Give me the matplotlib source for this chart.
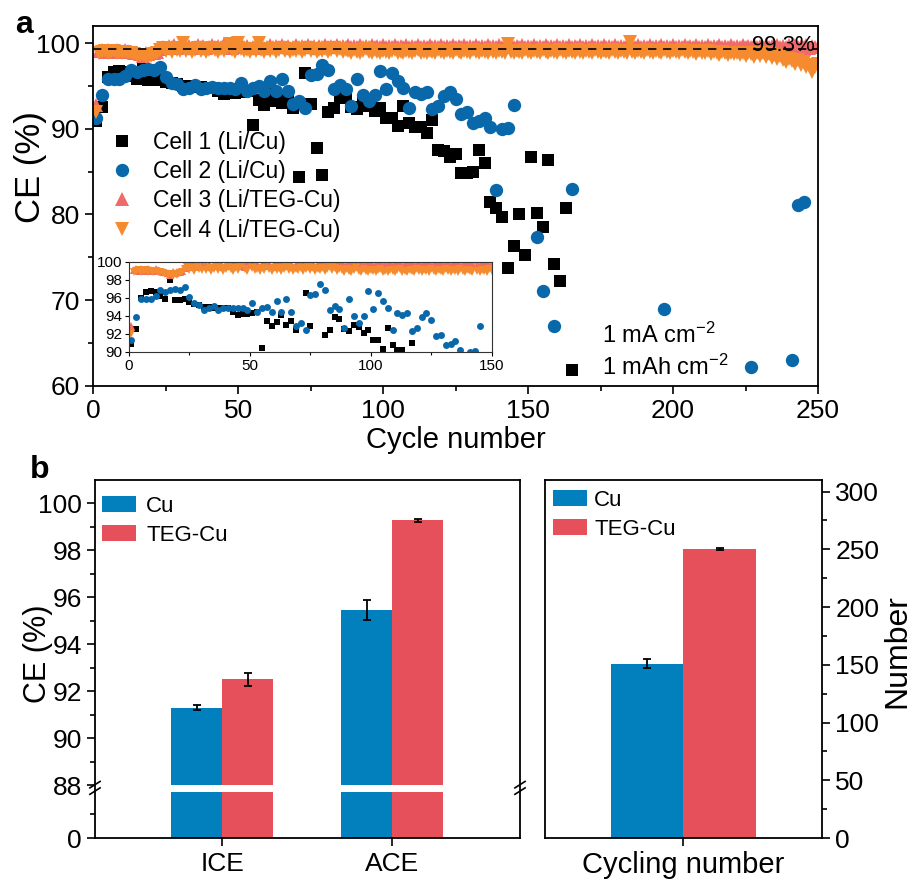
import numpy as np
import matplotlib
matplotlib.use('Agg')
import matplotlib.pyplot as plt

plt.rcParams['font.family'] = ['Liberation Sans', 'DejaVu Sans']
plt.rcParams['mathtext.fontset'] = 'custom'
plt.rcParams['mathtext.rm'] = 'Liberation Sans'
plt.rcParams['mathtext.it'] = 'Liberation Sans:italic'
plt.rcParams['axes.linewidth'] = 1.3

# ---------------- data: panel a ----------------
cell1_cycle = [1, 3, 5, 7, 9, 11, 13, 15, 17, 19, 21, 23, 25, 27, 29, 31, 33, 35, 37, 39,
               41, 43, 45, 47, 49, 51, 53, 55, 57, 59, 61, 63, 65, 67, 69, 71, 73, 75, 77, 79,
               81, 83, 85, 87, 89, 91, 93, 95, 97, 99, 101, 103, 105, 107, 109, 111, 113, 115, 117, 119,
               121, 123, 125, 127, 129, 131, 133, 135, 137, 139, 141, 143, 145, 147, 149, 151, 153, 155, 157, 159,
               161, 163, 165]
cell1_ce = [90.9, 92.5, 96.0, 96.6, 96.7, 96.6, 96.2, 95.8, 98.0, 95.7, 95.7, 95.9, 95.5, 95.3, 95.2, 95.0, 95.0, 94.9, 94.9, 94.8,
            94.8, 94.4, 94.1, 94.2, 94.2, 94.3, 94.4, 90.4, 93.4, 92.8, 93.3, 94.1, 93.0, 93.4, 92.4, 84.4, 96.5, 92.9, 87.8, 84.6,
            91.9, 92.4, 93.8, 93.6, 92.5, 92.3, 93.0, 92.7, 92.1, 92.4, 91.3, 91.3, 90.3, 92.6, 90.7, 90.2, 90.2, 89.5, 91.0, 87.5,
            87.4, 86.7, 87.1, 84.8, 84.8, 85.0, 87.5, 86.0, 81.5, 80.8, 79.7, 73.7, 76.3, 80.1, 75.3, 86.7, 80.2, 78.5, 86.3, 74.2,
            72.2, 80.7, 61.8]

cell2_cycle = [1, 3, 5, 7, 9, 11, 13, 15, 17, 19, 21, 23, 25, 27, 29, 31, 33, 35, 37, 39,
               41, 43, 45, 47, 49, 51, 53, 55, 57, 59, 61, 63, 65, 67, 69, 71, 73, 75, 77, 79,
               81, 83, 85, 87, 89, 91, 93, 95, 97, 99, 101, 103, 105, 107, 109, 111, 113, 115, 117, 119,
               121, 123, 125, 127, 129, 131, 133, 135, 137, 139, 141, 143, 145, 153, 155, 159, 165, 197, 227, 241,
               243, 245]
cell2_ce = [91.3, 93.9, 95.8, 95.8, 95.8, 96.2, 96.9, 96.6, 96.9, 97.0, 96.9, 97.2, 96.1, 95.4, 95.2, 94.6, 94.8, 95.1, 94.6, 94.8,
            94.9, 94.8, 94.8, 94.8, 94.6, 95.4, 94.4, 94.8, 95.0, 94.4, 95.6, 94.4, 95.8, 94.4, 92.9, 93.2, 92.4, 96.3, 96.4, 97.5,
            96.9, 94.6, 95.1, 94.7, 92.6, 95.8, 94.0, 93.2, 94.0, 96.7, 94.7, 96.5, 95.6, 94.8, 92.4, 94.3, 94.1, 94.3, 92.3, 92.6,
            93.8, 94.3, 93.5, 91.7, 91.9, 90.7, 90.9, 91.2, 90.2, 82.8, 90.0, 90.1, 92.8, 77.4, 71.0, 67.0, 83.0, 69.0, 62.2, 63.0,
            81.1, 81.4]

cell34_cycle = list(range(1, 251))
cell3_ce = [92.8, 99.1, 99.2, 99.0, 99.2, 99.1, 99.0, 99.2, 99.1, 99.0,
            99.2, 99.1, 99.0, 98.9, 98.8, 98.7, 98.5, 98.8, 98.7, 98.9,
            98.8, 99.0, 99.3, 99.6, 99.4, 99.7, 99.5, 99.8, 99.4, 99.6,
            99.9, 99.5, 99.7, 99.4, 99.6, 99.8, 99.5, 99.7, 99.4, 99.6,
            99.8, 99.5, 99.7, 99.6, 99.9, 99.5, 99.7, 99.4, 99.8, 99.6,
            99.9, 99.5, 99.7, 99.4, 99.6, 99.8, 99.5, 99.7, 99.4, 99.6,
            99.8, 99.5, 99.7, 99.6, 99.8, 99.5, 99.7, 99.4, 99.6, 99.8,
            99.5, 99.7, 99.6, 99.8, 99.5, 99.7, 99.4, 99.7, 99.6, 99.8,
            99.5, 99.7, 99.6, 99.8, 99.5, 99.7, 99.6, 99.8, 99.5, 99.7,
            99.6, 99.8, 99.5, 99.7, 99.6, 99.8, 99.5, 99.7, 99.6, 99.8,
            99.5, 99.7, 99.6, 99.8, 99.5, 99.7, 99.6, 99.8, 99.5, 99.7,
            99.6, 99.8, 99.5, 99.7, 99.6, 99.8, 99.5, 99.7, 99.6, 99.8,
            99.5, 99.7, 99.6, 99.8, 99.5, 99.7, 99.6, 99.8, 99.5, 99.7,
            99.6, 99.8, 99.5, 99.7, 99.6, 99.8, 99.5, 99.7, 99.6, 99.8,
            99.5, 99.7, 99.6, 99.8, 99.5, 99.7, 99.6, 99.8, 99.5, 99.7,
            99.6, 99.8, 99.5, 99.7, 99.6, 99.8, 99.5, 99.7, 99.6, 99.8,
            99.5, 99.7, 99.6, 99.8, 99.5, 99.7, 99.6, 99.8, 99.5, 99.7,
            99.6, 99.8, 99.5, 99.7, 99.6, 99.8, 99.5, 99.7, 99.6, 99.8,
            99.5, 99.7, 99.6, 99.8, 99.5, 99.7, 99.6, 99.8, 99.5, 99.7,
            99.6, 99.8, 99.5, 99.7, 99.6, 99.8, 99.5, 99.7, 99.6, 99.8,
            99.5, 99.7, 99.6, 99.8, 99.5, 99.7, 99.6, 99.8, 99.5, 99.7,
            99.6, 99.8, 99.5, 99.7, 99.6, 99.8, 99.5, 99.7, 99.6, 99.8,
            99.5, 99.7, 99.6, 99.8, 99.5, 99.7, 99.6, 99.8, 99.5, 99.7,
            99.6, 99.8, 99.5, 99.7, 99.6, 99.8, 99.5, 99.7, 99.6, 99.8,
            99.6, 99.8, 99.5, 99.7, 99.6, 99.8, 99.4, 99.7, 99.5, 99.6]
cell4_ce = [92.0, 98.9, 99.0, 99.1, 98.9, 99.0, 99.1, 98.9, 99.0, 98.8,
            99.0, 98.9, 98.8, 98.7, 98.6, 98.5, 98.6, 98.4, 98.6, 98.5,
            98.7, 98.8, 99.2, 99.4, 99.1, 99.3, 99.0, 99.4, 99.2, 99.1,
            100.0, 99.1, 99.3, 99.0, 99.2, 99.4, 99.1, 99.3, 99.0, 99.2,
            99.4, 99.2, 99.0, 99.3, 99.1, 99.4, 99.9, 99.2, 99.0, 100.0,
            99.3, 99.1, 99.2, 99.0, 99.3, 99.1, 100.0, 99.2, 99.0, 99.3,
            99.1, 99.3, 99.0, 99.2, 99.4, 99.1, 99.3, 99.0, 99.2, 99.1,
            99.3, 99.0, 99.2, 99.4, 99.1, 99.3, 99.0, 99.2, 99.1, 99.3,
            99.0, 99.2, 99.4, 99.1, 99.3, 99.0, 99.2, 99.1, 98.9, 99.2,
            99.0, 98.8, 99.1, 99.3, 99.0, 98.9, 99.2, 99.0, 98.8, 99.1,
            99.0, 98.8, 99.1, 99.2, 98.9, 99.0, 98.8, 99.1, 99.0, 98.8,
            99.1, 99.2, 98.9, 99.0, 98.8, 99.1, 99.0, 98.9, 99.2, 99.0,
            98.8, 99.1, 99.0, 98.9, 99.2, 99.0, 98.8, 99.1, 99.0, 98.9,
            99.2, 99.0, 98.8, 99.1, 99.0, 98.9, 99.2, 99.0, 98.8, 99.1,
            99.0, 98.9, 99.9, 99.0, 98.8, 99.1, 99.0, 98.9, 99.2, 99.0,
            98.8, 99.1, 99.0, 98.9, 99.2, 99.0, 98.8, 99.1, 99.0, 98.9,
            99.2, 99.0, 98.8, 99.1, 99.0, 98.9, 99.2, 99.0, 98.8, 99.1,
            99.0, 98.9, 99.2, 99.0, 98.8, 99.1, 99.0, 98.9, 99.2, 99.0,
            98.8, 99.1, 99.0, 98.9, 100.1, 99.0, 98.8, 99.1, 99.0, 98.9,
            99.2, 99.0, 98.8, 99.1, 99.0, 98.9, 99.2, 99.0, 98.8, 99.1,
            99.0, 98.9, 99.2, 99.0, 98.8, 99.1, 99.0, 98.7, 99.1, 98.9,
            98.8, 99.1, 98.7, 99.0, 98.8, 98.6, 99.0, 98.8, 98.6, 98.9,
            98.7, 98.9, 98.6, 98.8, 98.5, 98.9, 98.7, 98.4, 98.8, 98.5,
            98.8, 98.4, 98.7, 98.3, 98.6, 98.2, 98.5, 98.0, 97.8, 98.1,
            97.9, 97.6, 98.0, 97.4, 97.8, 97.2, 97.5, 96.6, 97.2, 97.6]
ce_ref = 99.3

# ---------------- data: panel b ----------------
ce_categories = ['ICE', 'ACE']
ce_cu = [91.3, 95.45]
ce_cu_err = [0.1, 0.43]
ce_teg = [92.5, 99.28]
ce_teg_err = [0.28, 0.07]

cyc_category = ['Cycling number']
cyc_cu = [151]
cyc_cu_err = [4.2]
cyc_teg = [250]
cyc_teg_err = [1.0]

# ---------------- style ----------------
C_BLACK = '#000000'
C_BLUE = '#0868AA'
C_PINK = '#F06A6A'
C_ORANGE = '#F58A2E'
BAR_BLUE = '#0180BD'
BAR_RED = '#E5505A'

fig = plt.figure(figsize=(9.15, 8.81), dpi=100)

# ================= panel a =================
ax = fig.add_axes([0.102, 0.5622, 0.792, 0.4083])
ax.plot(cell1_cycle, cell1_ce, 's', color=C_BLACK, ms=8.4, mew=0, label='Cell 1 (Li/Cu)')
ax.plot(cell2_cycle, cell2_ce, 'o', color=C_BLUE, ms=9.6, mew=0, label='Cell 2 (Li/Cu)')
ax.plot(cell34_cycle, cell3_ce, '^', color=C_PINK, ms=9.5, mew=0, label='Cell 3 (Li/TEG-Cu)')
ax.plot(cell34_cycle, cell4_ce, 'v', color=C_ORANGE, ms=9.5, mew=0, label='Cell 4 (Li/TEG-Cu)')
ax.axhline(ce_ref, color='black', ls=(0, (5, 4)), lw=1.2, zorder=5)
ax.text(249, 99.05, '99.3%', ha='right', va='baseline', fontsize=16, zorder=6)
ax.set_xlim(0, 250)
ax.set_ylim(60, 102)
ax.set_xticks([0, 50, 100, 150, 200, 250])
ax.set_xticks([25, 75, 125, 175, 225], minor=True)
ax.set_yticks([60, 70, 80, 90, 100])
ax.set_yticks([65, 75, 85, 95], minor=True)
ax.tick_params(which='both', direction='out', width=1.2, labelsize=19)
ax.tick_params(which='major', length=6)
ax.tick_params(which='minor', length=3.5)
ax.set_xlabel('Cycle number', fontsize=21, labelpad=2)
ax.set_ylabel('CE (%)', fontsize=25, va='center')
ax.yaxis.set_label_coords(-0.0873, 0.608)
ax.legend(loc='upper left', bbox_to_anchor=(0.0233, 0.708), frameon=False, fontsize=16.5,
          handlelength=1.0, handletextpad=0.85, labelspacing=0.27, borderpad=0, borderaxespad=0)
ax.text(175.5, 64.95, '1 mA cm$^{-2}$', fontsize=17, va='baseline')
ax.text(175.5, 61.25, '1 mAh cm$^{-2}$', fontsize=17, va='baseline')
fig.text(0.0165, 0.9716, 'a', fontsize=23, fontweight='bold', va='center')

# inset
axi = fig.add_axes([0.141, 0.6008, 0.3964, 0.1022])
axi.plot(cell1_cycle, cell1_ce, 's', color=C_BLACK, ms=4, mew=0)
axi.plot(cell2_cycle, cell2_ce, 'o', color=C_BLUE, ms=5, mew=0)
axi.plot(cell34_cycle, cell3_ce, '^', color=C_PINK, ms=5.5, mew=0)
axi.plot(cell34_cycle, cell4_ce, 'v', color=C_ORANGE, ms=5.5, mew=0)
axi.set_xlim(0, 150)
axi.set_ylim(90, 100)
axi.set_xticks([0, 50, 100, 150])
axi.set_xticks([25, 75, 125], minor=True)
axi.set_yticks([90, 92, 94, 96, 98, 100])
axi.tick_params(which='both', direction='out', width=0.8, labelsize=11, pad=2)
axi.tick_params(which='major', length=3)
axi.tick_params(which='minor', length=2)
for s in axi.spines.values():
    s.set_linewidth(0.8)
    s.set_color('#333333')

# ================= panel b (left) =================
BREAK = 88.0
K_LOW = 2.258 / 88.0


def fwd(v):
    v = np.asarray(v, dtype=float)
    return np.where(v < BREAK, v * K_LOW, BREAK * K_LOW + (v - BREAK))


def inv(u):
    u = np.asarray(u, dtype=float)
    return np.where(u < BREAK * K_LOW, u / K_LOW, u - BREAK * K_LOW + BREAK)


axb = fig.add_axes([0.1038, 0.0488, 0.4645, 0.4064])
axb.set_yscale('function', functions=(fwd, inv))
xb = np.arange(1, len(ce_categories) + 1)
bw = 0.3
axb.bar(xb - bw / 2, ce_cu, width=bw, color=BAR_BLUE, label='Cu', zorder=1)
axb.bar(xb + bw / 2, ce_teg, width=bw, color=BAR_RED, label='TEG-Cu', zorder=1)
axb.errorbar(xb - bw / 2, ce_cu, yerr=ce_cu_err, fmt='none', ecolor='black', elinewidth=1.3,
             capsize=3, capthick=1.3, zorder=3)
axb.errorbar(xb + bw / 2, ce_teg, yerr=ce_teg_err, fmt='none', ecolor='black', elinewidth=1.3,
             capsize=3, capthick=1.3, zorder=3)
axb.axhspan(76.4, BREAK, color='white', lw=0, zorder=2)
axb.set_xlim(0.25, 2.75)
axb.set_ylim(0, 101)
axb.set_xticks(xb)
axb.set_xticklabels(ce_categories)
axb.set_yticks([0, 88, 90, 92, 94, 96, 98, 100])
axb.set_yticks([40, 89, 91, 93, 95, 97, 99], minor=True)
axb.tick_params(which='both', direction='out', width=1.2, labelsize=19)
axb.tick_params(which='major', length=6)
axb.tick_params(which='minor', length=3.5)
axb.tick_params(axis='x', pad=4)
axb.set_ylabel('CE (%)', fontsize=22, va='center')
axb.yaxis.set_label_coords(-0.135, 0.514)
axb.legend(loc='upper left', bbox_to_anchor=(0.016, 0.955), frameon=False, fontsize=16,
           handlelength=1.55, handleheight=0.75, handletextpad=0.45, labelspacing=0.35,
           borderpad=0, borderaxespad=0)
# break marks
yb = 0.14
for xs in (0.0, 1.0):
    for dy in (-0.009, 0.009):
        axb.plot([xs - 0.012, xs + 0.012], [yb + dy - 0.009, yb + dy + 0.009],
                 transform=axb.transAxes, color='black', lw=1.2, clip_on=False, zorder=6)
fig.text(0.033, 0.4665, 'b', fontsize=23, fontweight='bold', va='center')

# ================= panel b (right) =================
axr = fig.add_axes([0.5956, 0.0488, 0.3027, 0.4064])
xr = np.arange(len(cyc_category))
axr.bar(xr - bw / 2, cyc_cu, width=bw, color=BAR_BLUE, label='Cu')
axr.bar(xr + bw / 2, cyc_teg, width=bw, color=BAR_RED, label='TEG-Cu')
axr.errorbar(xr - bw / 2, cyc_cu, yerr=cyc_cu_err, fmt='none', ecolor='black', elinewidth=1.3,
             capsize=3, capthick=1.3, zorder=3)
axr.errorbar(xr + bw / 2, cyc_teg, yerr=cyc_teg_err, fmt='none', ecolor='black', elinewidth=1.3,
             capsize=3, capthick=1.3, zorder=3)
axr.set_xlim(-0.57, 0.57)
axr.set_ylim(0, 310)
axr.set_xticks(xr)
axr.set_xticklabels(cyc_category, fontsize=21)
axr.yaxis.tick_right()
axr.yaxis.set_label_position('right')
axr.set_yticks([0, 50, 100, 150, 200, 250, 300])
axr.set_yticks([25, 75, 125, 175, 225, 275], minor=True)
axr.tick_params(which='both', direction='out', width=1.2)
axr.tick_params(axis='y', labelsize=19)
axr.tick_params(which='major', length=6)
axr.tick_params(which='minor', length=3.5)
axr.tick_params(axis='x', pad=3)
axr.set_ylabel('Number', fontsize=23, va='center')
axr.yaxis.set_label_coords(1.272, 0.522)
axr.legend(loc='upper left', bbox_to_anchor=(0.029, 0.972), frameon=False, fontsize=16,
           handlelength=1.55, handleheight=0.75, handletextpad=0.3, labelspacing=0.35,
           borderpad=0, borderaxespad=0)

fig.savefig('out.png', dpi=100)
